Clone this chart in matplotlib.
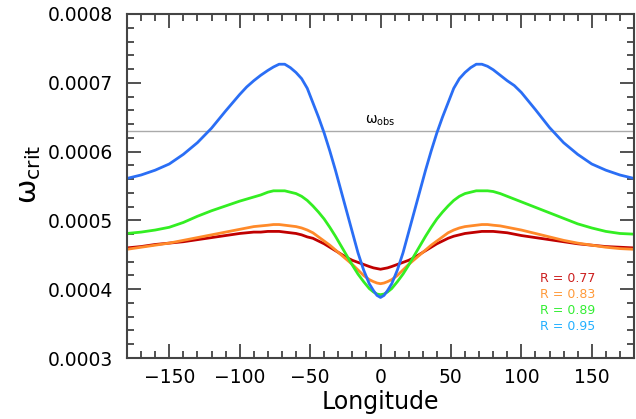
import matplotlib
matplotlib.use("Agg")
import matplotlib.pyplot as plt
from matplotlib.ticker import MultipleLocator

# Longitude grid (degrees), west half then east half
lon_w = [-180, -170, -160, -150, -140, -130, -120, -110, -100, -95, -90, -85, -80, -76,
         -72, -68, -64, -60, -56, -52, -48, -44, -40, -36, -32, -28, -24, -20, -16,
         -12, -8, -5, -2.5, 0]
lon_e = [2.5, 5, 8, 12, 16, 20, 24, 28, 32, 36, 40, 44, 48, 52, 56, 60, 64, 68, 72,
         76, 80, 85, 90, 95, 100, 110, 120, 130, 140, 150, 160, 170, 180]

# R = 0.95
w95_w = [0.000561, 0.000566, 0.000573, 0.000582, 0.000596, 0.000613, 0.000634, 0.000659,
         0.000683, 0.000694, 0.000703, 0.000711, 0.000718, 0.000723, 0.000727, 0.000727,
         0.000722, 0.000715, 0.000706, 0.000692, 0.000671, 0.000650, 0.000627, 0.000601,
         0.000573, 0.000543, 0.000513, 0.000483, 0.000453, 0.000428, 0.000408, 0.000398,
         0.000391, 0.000388]
w95_e = [0.000391, 0.000398, 0.000408, 0.000428, 0.000453, 0.000483, 0.000513, 0.000543,
         0.000573, 0.000601, 0.000627, 0.000650, 0.000671, 0.000692, 0.000706, 0.000715,
         0.000722, 0.000727, 0.000727, 0.000724, 0.000719, 0.000711, 0.000703, 0.000696,
         0.000686, 0.000661, 0.000635, 0.000613, 0.000596, 0.000582, 0.000573, 0.000566,
         0.000561]

# R = 0.89
w89_w = [0.000481, 0.000483, 0.000486, 0.000490, 0.000497, 0.000506, 0.000514, 0.000521,
         0.000528, 0.000531, 0.000534, 0.000537, 0.000541, 0.000543, 0.000543, 0.000543,
         0.000541, 0.000539, 0.000535, 0.000529, 0.000521, 0.000512, 0.000502, 0.000490,
         0.000477, 0.000463, 0.000449, 0.000435, 0.000422, 0.000411, 0.000401, 0.000396,
         0.000393, 0.000392]
w89_e = [0.000393, 0.000396, 0.000401, 0.000411, 0.000422, 0.000435, 0.000449, 0.000463,
         0.000477, 0.000490, 0.000502, 0.000512, 0.000521, 0.000529, 0.000535, 0.000539,
         0.000541, 0.000543, 0.000543, 0.000543, 0.000542, 0.000539, 0.000535, 0.000531,
         0.000527, 0.000519, 0.000511, 0.000503, 0.000495, 0.000489, 0.000484, 0.000481,
         0.000480]

# R = 0.83
w83_w = [0.000458, 0.000461, 0.000464, 0.000467, 0.000471, 0.000475, 0.000479, 0.000483,
         0.000487, 0.000489, 0.000491, 0.000492, 0.000493, 0.000494, 0.000494, 0.000493,
         0.000492, 0.000491, 0.000489, 0.000486, 0.000482, 0.000476, 0.000470, 0.000464,
         0.000457, 0.000450, 0.000443, 0.000436, 0.000428, 0.000420, 0.000414, 0.000411,
         0.000409, 0.000408]
w83_e = [0.000409, 0.000411, 0.000414, 0.000420, 0.000428, 0.000436, 0.000443, 0.000450,
         0.000457, 0.000464, 0.000470, 0.000476, 0.000482, 0.000486, 0.000489, 0.000491,
         0.000492, 0.000493, 0.000494, 0.000494, 0.000493, 0.000492, 0.000490, 0.000488,
         0.000486, 0.000481, 0.000476, 0.000471, 0.000467, 0.000464, 0.000461, 0.000459,
         0.000458]

# R = 0.77
w77_w = [0.000460, 0.000462, 0.000465, 0.000467, 0.000469, 0.000472, 0.000475, 0.000478,
         0.000481, 0.000482, 0.000483, 0.000483, 0.000484, 0.000484, 0.000484, 0.000483,
         0.000482, 0.000481, 0.000479, 0.000476, 0.000474, 0.000470, 0.000466, 0.000461,
         0.000456, 0.000451, 0.000446, 0.000442, 0.000439, 0.000436, 0.000433, 0.000431,
         0.000430, 0.000429]
w77_e = [0.000430, 0.000431, 0.000433, 0.000436, 0.000439, 0.000442, 0.000446, 0.000451,
         0.000456, 0.000461, 0.000466, 0.000470, 0.000474, 0.000477, 0.000479, 0.000481,
         0.000482, 0.000483, 0.000484, 0.000484, 0.000484, 0.000483, 0.000482, 0.000480,
         0.000478, 0.000475, 0.000472, 0.000469, 0.000466, 0.000464, 0.000462, 0.000461,
         0.000460]

omega_obs = 0.00063
labels = ["R = 0.77", "R = 0.83", "R = 0.89", "R = 0.95"]
line_colors = ["#c00000", "#ff8a2a", "#33ee22", "#2a6ef5"]
label_colors = ["#cc1f1f", "#ff9a3a", "#33ee33", "#22b0ff"]
series = [(w77_w, w77_e), (w83_w, w83_e), (w89_w, w89_e), (w95_w, w95_e)]

plt.rcParams['font.family'] = ['DejaVu Sans']
fig = plt.figure(figsize=(6.36, 4.19), dpi=100)
ax = fig.add_axes([127/636, 1-358/419, 507/636, 344/419])

ax.axhline(omega_obs, color="#aaaaaa", lw=1.0, zorder=1)
lon = lon_w + lon_e
for (sw, se), c in zip(series, line_colors):
    ax.plot(lon, sw + se, color=c, lw=2.0, solid_capstyle="round",
            solid_joinstyle="round", zorder=2)

ax.set_xlim(-180, 180)
ax.set_ylim(0.0003, 0.0008)
ax.xaxis.set_major_locator(MultipleLocator(50))
ax.xaxis.set_minor_locator(MultipleLocator(10))
ax.yaxis.set_major_locator(MultipleLocator(0.0001))
ax.yaxis.set_minor_locator(MultipleLocator(0.00002))
ax.yaxis.set_major_formatter(plt.FuncFormatter(lambda v, p: f"{v:.4f}"))

ax.tick_params(which="both", direction="in", top=True, right=True, color="#333333", width=1.2)
ax.tick_params(which="major", length=10, labelsize=13.5)
ax.tick_params(axis="y", which="major", pad=10)
ax.tick_params(axis="x", which="major", pad=7)
ax.tick_params(which="minor", length=5)
for sp in ax.spines.values():
    sp.set_color("#444444")
    sp.set_linewidth(1.5)

ax.set_xlabel("Longitude", fontsize=17, labelpad=2)
fig.text(0.045, 0.585, "ω$_{\\mathrm{crit}}$", rotation=90, fontsize=21,
         ha="center", va="center")

ax.text(0, omega_obs + 0.000005, "ω$_{\\mathrm{obs}}$", ha="center", va="bottom", fontsize=10)

for i, (lab, c) in enumerate(zip(labels, label_colors)):
    ax.text(0.815, 0.232 - i * 0.047, lab, color=c, fontsize=9, transform=ax.transAxes,
            ha="left", va="center")

fig.savefig("out.png", dpi=100)
